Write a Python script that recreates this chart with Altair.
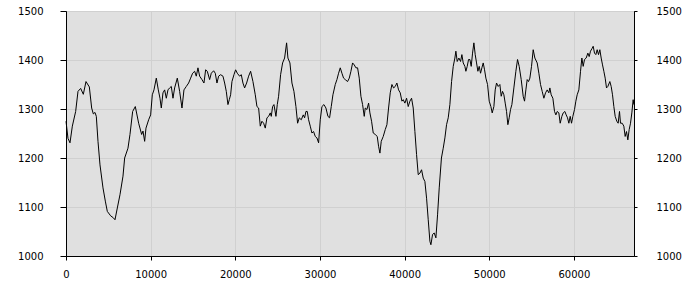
import altair as alt
import pandas as pd

xs = [0, 236, 472, 748, 1142, 1417, 1732, 2047, 2362, 2756, 3031, 3228, 3425, 3582, 3779, 4015, 4370, 4645, 4881, 5275,
      5590, 5787, 6063, 6377, 6732, 6929, 7322, 7558, 7874, 8188, 8582, 8936, 9094, 9291, 9448, 9763, 9999, 10196, 10393, 10668,
      10904, 11101,
      11259, 11456, 11653, 11849, 12046, 12243, 12440, 12637, 12834, 13148, 13424, 13700, 13936, 14211, 14487, 14723, 14959, 15196,
      15392, 15589, 15786, 16062, 16298, 16495, 16691, 16967, 17163, 17440, 17636, 17833, 18030, 18266, 18542, 18739, 18935, 19132,
      19290, 19447, 19605, 19841, 20038, 20234, 20510, 20707, 20904, 21101, 21337, 21573, 21809, 22085,
      22360, 22557, 22754, 22950, 23148, 23345, 23541, 23738, 23935, 24131, 24250, 24407, 24565, 24801, 24958, 25116, 25352, 25588,
      25825, 26061, 26218, 26454, 26691, 26927, 27163, 27360, 27557, 27793, 28029, 28187, 28344, 28501, 28659, 28856, 29053, 29249,
      29446, 29643, 29840, 30037, 30234, 30470, 30706, 30942, 31139, 31336, 31533, 31808, 32005, 32202, 32399, 32596, 32792, 32989,
      33265,
      33462, 33659, 33855, 34052, 34249, 34446, 34642, 34840, 35036, 35233, 35351, 35548, 35745, 35902, 36099, 36296, 36532, 36768,
      36926, 37083, 37241, 37477, 37713, 37910, 38107, 38304, 38501, 38698, 38894, 39091, 39288, 39485, 39682, 39839, 40036, 40233,
      40429, 40626, 40823, 41020, 41217, 41414, 41610, 41807, 42004, 42201, 42398, 42595, 42791, 42988, 43107, 43304, 43500, 43697,
      43894, 44090, 44350,
      44563, 44760, 44957, 45153, 45350, 45548, 45744, 45941, 46059, 46216, 46413, 46610, 46768, 46925, 47122, 47240, 47397, 47555,
      47712, 47870, 48027, 48185, 48342, 48500, 48657, 48815, 48972, 49130, 49287, 49445, 49602, 49799, 49995, 50193, 50350, 50547,
      50704, 50862, 51058, 51255, 51413, 51570, 51728, 51885, 52043, 52200, 52357, 52515, 52673, 52909, 53145, 53342, 53538, 53775,
      54011, 54169, 54326, 54483, 54641, 54798, 54995, 55192, 55389,
      55664, 55861, 56058, 56255, 56452, 56649, 56845, 57042, 57160, 57318, 57515, 57712, 57869, 58026, 58223, 58381, 58578, 58735,
      58932, 59089, 59247, 59404, 59562, 59719, 59877, 60074, 60231, 60388, 60585, 60782, 60940, 61097, 61255, 61451, 61648, 61806,
      61963, 62160, 62278, 62436, 62593, 62750, 62908, 63065, 63223, 63381, 63538, 63695, 63853, 64010, 64246, 64404, 64561, 64719,
      64876, 65073, 65230, 65388, 65506, 65703, 65900, 66057, 66215, 66372, 66530, 66687, 66845, 67002, 67081]

ys = [1275, 1240, 1231, 1265, 1295, 1336, 1342, 1330, 1356, 1345, 1302, 1290, 1293, 1285, 1234, 1186, 1139, 1112, 1091, 1082,
      1078, 1074, 1098, 1125, 1163, 1200, 1220, 1248, 1295, 1305, 1271, 1248, 1255, 1234, 1261, 1278, 1288, 1329, 1339, 1363,
      1339, 1322,
      1302, 1333, 1339, 1322, 1339, 1343, 1346, 1322, 1343, 1363, 1336, 1302, 1339, 1346, 1353, 1363, 1373, 1377,
      1367, 1384, 1367, 1360, 1353, 1380, 1377, 1360, 1373, 1378, 1373, 1353, 1367, 1370, 1367, 1353, 1336, 1309,
      1319, 1329, 1356, 1370, 1380, 1373, 1367, 1370, 1353, 1343, 1353, 1367, 1377, 1356,
      1329, 1305, 1302, 1265, 1275, 1271, 1261, 1282, 1285, 1292, 1285, 1305, 1309, 1285, 1309, 1326, 1370, 1394,
      1404, 1435, 1404, 1394, 1353, 1336, 1305, 1271, 1282, 1278, 1288, 1282, 1295, 1295, 1278, 1265, 1251, 1254,
      1244, 1241, 1231, 1278, 1305, 1309, 1302, 1285, 1282, 1305, 1329, 1350, 1360, 1373, 1384, 1373, 1363, 1360,
      1356,
      1363, 1377, 1394, 1390, 1384, 1384, 1363, 1326, 1309, 1285, 1302, 1299, 1312, 1292, 1275, 1251, 1248, 1244,
      1224, 1210, 1234, 1244, 1258, 1268, 1302, 1333, 1350, 1343, 1346, 1353, 1339, 1333, 1316, 1319, 1312, 1322,
      1305, 1316, 1322, 1302, 1254, 1207, 1166, 1169, 1176, 1159, 1152, 1118, 1074, 1030, 1023, 1044, 1047, 1037,
      1084, 1139, 1200,
      1220, 1241, 1268, 1282, 1309, 1356, 1387, 1404, 1418, 1397, 1404, 1397, 1411, 1394, 1387, 1377, 1387, 1401,
      1401, 1387, 1414, 1435, 1411, 1394, 1377, 1387, 1373, 1384, 1394, 1380, 1363, 1350, 1316, 1305, 1292, 1305,
      1339, 1353, 1346, 1350, 1326, 1336, 1329, 1312, 1295, 1268, 1282, 1299, 1309, 1343, 1377, 1401, 1387, 1360,
      1326, 1316, 1339, 1360, 1356, 1363, 1387, 1421, 1404,
      1394, 1373, 1350, 1336, 1322, 1333, 1339, 1333, 1343, 1329, 1322, 1295, 1288, 1295, 1292, 1271, 1285, 1292,
      1295, 1288, 1282, 1271, 1285, 1271, 1285, 1299, 1316, 1329, 1339, 1377, 1404, 1387, 1401, 1404, 1414, 1407,
      1418, 1424, 1428, 1414, 1411, 1421, 1411, 1421, 1404, 1390, 1377, 1363, 1343, 1346, 1356, 1346, 1329, 1305,
      1285, 1275, 1271, 1295, 1271, 1271, 1265, 1244, 1254, 1237, 1258, 1271, 1292, 1319, 1309]

x_ticks = [0, 10000, 20000, 30000, 40000, 50000, 60000]
y_ticks = [1000, 1100, 1200, 1300, 1400, 1500]

df = pd.DataFrame({"x": xs, "y": ys})

FONT = "DejaVu Sans"
xscale = alt.Scale(domain=[0, 67100], nice=False, zero=False)
yscale = alt.Scale(domain=[1000, 1500], nice=False, zero=False)

x_axis = alt.Axis(values=x_ticks, format="d", title=None, grid=True,
                  gridColor="#d0d0d0", gridWidth=1, tickSize=4, labelPadding=9,
                  domainColor="black", tickColor="black", labelColor="black",
                  labelFont=FONT, labelFontSize=10, labelFlush=False)

base = alt.Chart(df)

left = base.mark_line(color="black", strokeWidth=1).encode(
    x=alt.X("x:Q", scale=xscale, axis=x_axis),
    y=alt.Y("y:Q", scale=yscale,
            axis=alt.Axis(values=y_ticks, orient="left", format="d", title=None, grid=True,
                          gridColor="#d0d0d0", gridWidth=1, tickSize=6, labelPadding=17,
                          domainColor="black", tickColor="black", labelColor="black",
                          labelFont=FONT, labelFontSize=10, labelFlush=False)),
)

right = base.mark_line(opacity=0).encode(
    x=alt.X("x:Q", scale=xscale, axis=x_axis),
    y=alt.Y("y:Q", scale=yscale,
            axis=alt.Axis(values=y_ticks, orient="right", format="d", title=None, grid=False,
                          tickSize=3, labelPadding=19, domainColor="black", tickColor="black",
                          labelColor="black", labelFont=FONT, labelFontSize=10, labelFlush=False)),
)

chart = alt.layer(left, right).resolve_axis(y="independent").properties(
    width=568, height=245,
    padding={"left": 66, "top": 11, "right": 66, "bottom": 44},
    autosize=alt.AutoSizeParams(type="none"),
    background="white",
).configure_view(fill="#e0e0e0", stroke="black", strokeWidth=1)

chart.save("out.html", embed_options={"renderer": "svg", "actions": False})
